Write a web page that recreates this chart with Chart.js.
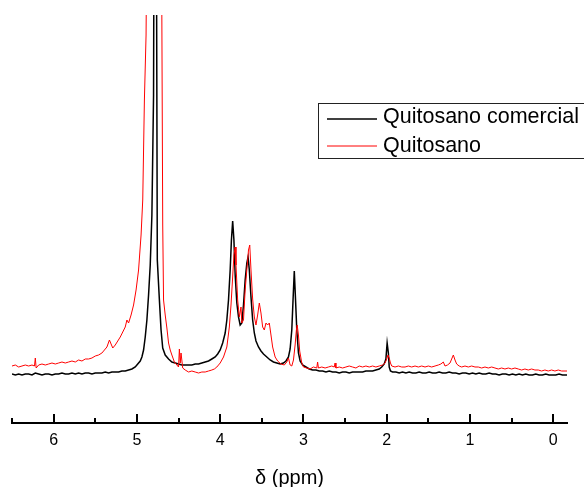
<!DOCTYPE html>
<html><head><meta charset="utf-8">
<script src="https://cdn.jsdelivr.net/npm/chart.js@4"></script>
<style>html,body{margin:0;padding:0;background:#fff}#wrap{width:584px;height:487px;position:relative}</style>
</head><body><div id="wrap"><canvas id="c"></canvas></div>
<script>
const FONT = '"Liberation Sans", Arial, sans-serif';
const seriesNames = ['Quitosano comercial', 'Quitosano'];
const seriesColors = ['#000000', '#ff0000'];
const xTicksMajor = [0, 1, 2, 3, 4, 5, 6];
const xTicksMinor = [0.5, 1.5, 2.5, 3.5, 4.5, 5.5, 6.5];
const axisTitle = 'δ (ppm)';

const ppmComercial = [6.50,6.46,6.42,6.38,6.34,6.30,6.26,6.22,6.18,6.14,6.10,6.06,6.02,5.98,5.94,5.90,5.86,5.82,5.78,5.74,5.70,5.66,5.62,5.58,5.54,5.50,5.46,5.42,5.38,5.34,5.30,5.26,5.22,5.18,5.14,5.10,5.06,5.02,4.99,4.96,4.94,4.92,4.90,4.88,4.86,4.84,4.82,4.80,4.79,4.77,4.765,4.755,4.73,4.71,4.69,4.66,4.62,4.58,4.54,4.50,4.46,4.42,4.38,4.34,4.30,4.26,4.22,4.18,4.14,4.10,4.06,4.03,4.00,3.97,3.94,3.92,3.90,3.88,3.865,3.85,3.835,3.82,3.80,3.78,3.76,3.74,3.72,3.70,3.68,3.665,3.65,3.63,3.61,3.59,3.57,3.54,3.51,3.48,3.44,3.40,3.36,3.32,3.28,3.24,3.21,3.18,3.16,3.14,3.125,3.11,3.095,3.08,3.06,3.04,3.01,2.97,2.93,2.89,2.85,2.81,2.77,2.73,2.69,2.65,2.61,2.57,2.53,2.49,2.45,2.41,2.37,2.33,2.29,2.25,2.21,2.17,2.13,2.09,2.06,2.03,2.01,1.995,1.98,1.97,1.955,1.93,1.89,1.85,1.81,1.77,1.73,1.69,1.65,1.61,1.57,1.53,1.49,1.45,1.41,1.37,1.33,1.29,1.25,1.21,1.17,1.13,1.09,1.05,1.01,0.97,0.93,0.89,0.85,0.81,0.77,0.73,0.69,0.65,0.61,0.57,0.53,0.49,0.45,0.41,0.37,0.33,0.29,0.25,0.21,0.17,0.13,0.09,0.05,0.01,-0.03,-0.07,-0.11,-0.165];
const intComercial = [1,0,1,0,1,1,0,2,1,0,1,1,0,1,1,2,1,1,2,1,2,1,2,2,1,2,2,2,3,2,3,3,3,4,4,5,6,8,11,14,18,25,38,55,80,110,160,280,600,600,420,115,75,45,27,20,16,13,12,11,10,10,10,10,11,11,12,13,14,16,18,21,25,32,42,55,75,105,135,154,135,100,72,58,50,52,70,95,112,118,105,78,55,42,34,28,24,21,18,15,13,12,11,12,14,18,26,45,75,104,75,45,22,14,10,8,6,5,5,4,4,3,4,3,3,2,3,3,2,3,3,3,3,4,4,4,5,6,8,11,16,32,22,8,4,3,3,2,3,2,3,2,2,3,2,2,3,2,2,3,2,2,3,2,2,1,2,2,1,2,1,2,1,1,2,1,1,0,1,1,0,1,0,1,0,1,0,0,1,0,0,1,0,0,0,1,0,0];

const ppmQuitosano = [6.50,6.46,6.42,6.38,6.34,6.30,6.26,6.23,6.22,6.21,6.18,6.14,6.10,6.06,6.02,5.98,5.94,5.90,5.86,5.82,5.78,5.74,5.70,5.66,5.62,5.58,5.54,5.50,5.46,5.42,5.39,5.36,5.33,5.31,5.29,5.26,5.23,5.20,5.17,5.14,5.12,5.10,5.07,5.04,5.01,4.98,4.95,4.93,4.91,4.89,4.875,4.85,4.80,4.75,4.72,4.705,4.69,4.68,4.66,4.64,4.62,4.60,4.58,4.55,4.52,4.50,4.49,4.48,4.47,4.45,4.42,4.38,4.34,4.30,4.26,4.22,4.18,4.14,4.10,4.07,4.04,4.00,3.96,3.92,3.89,3.87,3.85,3.835,3.82,3.81,3.79,3.77,3.75,3.74,3.72,3.70,3.68,3.66,3.645,3.63,3.61,3.59,3.57,3.55,3.53,3.51,3.49,3.47,3.45,3.43,3.41,3.39,3.37,3.34,3.31,3.27,3.23,3.20,3.18,3.16,3.14,3.12,3.10,3.085,3.075,3.06,3.045,3.02,3.00,2.96,2.92,2.88,2.84,2.83,2.82,2.78,2.74,2.70,2.66,2.63,2.62,2.61,2.57,2.53,2.49,2.45,2.41,2.37,2.33,2.29,2.25,2.21,2.17,2.13,2.09,2.05,2.02,2.00,1.985,1.97,1.955,1.94,1.90,1.86,1.82,1.78,1.74,1.70,1.66,1.62,1.58,1.54,1.50,1.46,1.42,1.38,1.35,1.32,1.30,1.27,1.24,1.22,1.20,1.18,1.16,1.13,1.10,1.06,1.02,0.98,0.94,0.90,0.86,0.82,0.78,0.74,0.70,0.66,0.62,0.58,0.54,0.50,0.46,0.42,0.38,0.34,0.30,0.26,0.22,0.18,0.14,0.10,0.06,0.02,-0.02,-0.06,-0.10,-0.165];
const intQuitosano = [9,10,8,9,10,9,10,9,17,7,10,11,10,11,12,11,12,13,12,13,14,13,15,14,16,16,17,19,20,22,25,28,35,31,27,30,34,38,43,48,55,52,60,70,85,105,140,175,275,340,500,800,1000,1000,800,450,150,75,60,47,32,25,20,13,10,8,26,12,22,7,5,3,4,3,2,3,3,4,5,6,8,12,18,28,48,70,98,120,128,110,75,58,68,52,55,85,105,125,130,105,76,58,50,60,72,62,48,45,52,50,52,40,28,18,14,11,10,13,17,10,9,15,30,45,50,40,24,12,8,7,6,8,7,13,7,8,7,8,9,8,12,7,8,7,8,9,8,7,9,8,9,8,9,8,9,10,12,16,20,17,12,9,8,9,8,8,9,8,9,8,9,8,9,8,9,10,11,13,9,10,12,16,20,15,11,9,8,9,8,9,8,8,7,8,7,8,7,6,7,6,7,6,7,6,5,6,5,6,5,5,4,5,4,5,4,5,4,4];

const X_MIN = -0.165, X_MAX = 6.5, Y_MIN = -48, Y_MAX = 360;

function toPoints(xs, ys){ return xs.map((x,i)=>({x:x, y:ys[i]})); }

const ticksPlugin = {
  id: 'upTicks',
  afterDraw(chart){
    const sx = chart.scales.x; const ctx = chart.ctx;
    const y0 = chart.chartArea.bottom;
    ctx.save(); ctx.strokeStyle = '#000'; ctx.lineWidth = 2;
    xTicksMajor.forEach(v=>{ const p = Math.round(sx.getPixelForValue(v)); ctx.beginPath(); ctx.moveTo(p, y0); ctx.lineTo(p, y0-9); ctx.stroke(); });
    xTicksMinor.forEach(v=>{ const p = Math.round(sx.getPixelForValue(v)); ctx.beginPath(); ctx.moveTo(p, y0); ctx.lineTo(p, y0-5); ctx.stroke(); });
    ctx.restore();
  }
};

const legendPlugin = {
  id: 'boxLegend',
  afterDraw(chart){
    const ctx = chart.ctx;
    ctx.save();
    ctx.strokeStyle = '#222'; ctx.lineWidth = 1;
    ctx.strokeRect(318.5, 103.5, 300, 55);
    const rows = [119, 146];
    const base = [123, 152];
    chart.data.datasets.forEach((ds, i)=>{
      ctx.strokeStyle = ds.borderColor; ctx.lineWidth = ds.borderWidth;
      ctx.beginPath(); ctx.moveTo(327, rows[i]); ctx.lineTo(377, rows[i]); ctx.stroke();
      ctx.fillStyle = '#000'; ctx.font = '21.5px ' + FONT; ctx.textBaseline = 'alphabetic';
      ctx.fillText(ds.label, 383, base[i]);
    });
    ctx.restore();
  }
};

new Chart(document.getElementById('c'), {
  type: 'line',
  data: {
    datasets: [
      { label: seriesNames[0], data: toPoints(ppmComercial, intComercial), borderColor: seriesColors[0], borderWidth: 1.5, pointRadius: 0, tension: 0, order: 1 },
      { label: seriesNames[1], data: toPoints(ppmQuitosano, intQuitosano), borderColor: seriesColors[1], borderWidth: 1, pointRadius: 0, tension: 0, order: 0 }
    ]
  },
  options: {
    responsive: true, maintainAspectRatio: false, animation: false,
    layout: { padding: { left: 12, right: 17, top: 15, bottom: 0 } },
    plugins: { legend: { display: false }, tooltip: { enabled: false } },
    scales: {
      x: {
        type: 'linear', reverse: true, min: X_MIN, max: X_MAX,
        afterFit(scale){ scale.height = 64; },
        grid: { display: false, drawTicks: false },
        border: { display: true, color: '#000', width: 2 },
        ticks: { stepSize: 1, includeBounds: false, autoSkip: false, maxRotation: 0, color: '#000', padding: 8, font: { size: 16, family: FONT } },
        title: { display: true, text: axisTitle, color: '#000', padding: { top: 4, bottom: -3 }, font: { size: 20, family: FONT } }
      },
      y: { display: false, min: Y_MIN, max: Y_MAX }
    }
  },
  plugins: [ticksPlugin, legendPlugin]
});
</script></body></html>
